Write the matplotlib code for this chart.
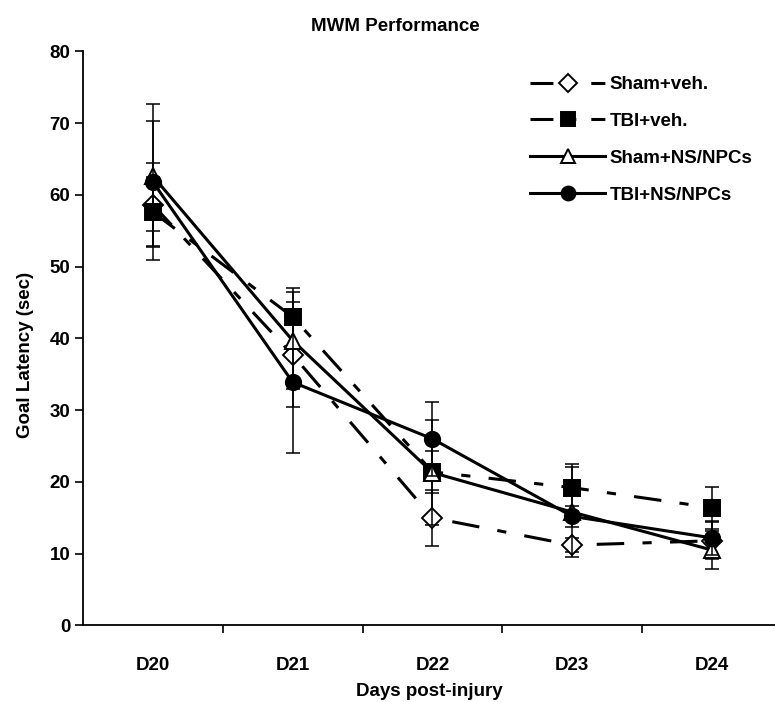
import numpy as np
import matplotlib
matplotlib.use('Agg')
import matplotlib.pyplot as plt
from matplotlib.ticker import FixedLocator
from matplotlib.lines import Line2D

plt.rcParams['font.family'] = ['Liberation Sans', 'DejaVu Sans']
plt.rcParams['font.weight'] = 'bold'

days = ['D20', 'D21', 'D22', 'D23', 'D24']

sham_veh = [58.6, 37.7, 15.0, 11.2, 11.8]
sham_veh_err = [5.8, 7.3, 3.9, 1.0, 2.6]
tbi_veh = [57.6, 43.0, 21.4, 19.2, 16.4]
tbi_veh_err = [4.9, 4.0, 2.9, 3.3, 2.9]
sham_ns = [62.6, 39.7, 21.3, 15.8, 10.5]
sham_ns_err = [7.7, 6.7, 7.3, 6.3, 2.7]
tbi_ns = [61.8, 33.9, 26.0, 15.2, 12.2]
tbi_ns_err = [10.9, 9.9, 5.2, 1.5, 2.4]

fs = 13.5

fig = plt.figure(figsize=(7.75, 7.02), dpi=100)
ax = fig.add_axes([0.107, 0.109, 0.893, 0.818])

x = np.arange(len(days))
dashdot = (0, (9, 6, 3, 6))
leg_dash = (0, (7.5, 2.6, 4.9, 4.9, 4.6, 10))

series = [
    (sham_veh, sham_veh_err, 'Sham+veh.', 'D', 'white', dashdot, 10.5),
    (tbi_veh, tbi_veh_err, 'TBI+veh.', 's', 'black', dashdot, 11),
    (sham_ns, sham_ns_err, 'Sham+NS/NPCs', '^', 'white', '-', 11),
    (tbi_ns, tbi_ns_err, 'TBI+NS/NPCs', 'o', 'black', '-', 11),
]

handles = []
for i, (vals, err, name, mk, fc, ls, ms) in enumerate(series):
    ax.errorbar(x, vals, yerr=err, fmt='none', ecolor='black', elinewidth=1.1,
                capsize=5, capthick=1.1, zorder=2 + i)
    ax.plot(x, vals, color='black', linestyle=ls, linewidth=2.2,
            marker=mk, markersize=ms, markerfacecolor=fc,
            markeredgecolor='black', markeredgewidth=1.4, zorder=3 + i)
    handles.append(Line2D([], [], color='black',
                          linestyle=leg_dash if ls != '-' else '-',
                          linewidth=2.2, marker=mk, markersize=ms - 1,
                          markerfacecolor=fc, markeredgecolor='black',
                          markeredgewidth=1.4, label=name))

ax.set_xlim(-0.5, 4.45)
ax.set_ylim(0, 80)
ax.set_yticks(range(0, 81, 10))
ax.set_xticks(x)
ax.set_xticklabels(days)
ax.xaxis.set_minor_locator(FixedLocator([0.5, 1.5, 2.5, 3.5]))
ax.tick_params(axis='x', which='major', length=0, pad=23, labelsize=fs)
ax.tick_params(axis='x', which='minor', length=6, width=1.2, direction='out')
ax.tick_params(axis='y', length=6, width=1.2, direction='out', pad=3, labelsize=fs)

for side in ['top', 'right']:
    ax.spines[side].set_visible(False)
for side in ['left', 'bottom']:
    ax.spines[side].set_linewidth(1.3)

ax.set_xlabel('Days post-injury', fontsize=fs, fontweight='bold', labelpad=6)
ax.set_ylabel('Goal Latency (sec)', fontsize=fs, fontweight='bold')
ax.yaxis.set_label_coords(-0.07, 0.472)

fig.text(0.51, 0.975, 'MWM Performance', ha='center', va='top',
         fontsize=fs, fontweight='bold')

leg = ax.legend(handles=handles, loc='upper left',
                bbox_to_anchor=(530 / 775, 1 - 76 / 702),
                bbox_transform=fig.transFigure, frameon=False,
                fontsize=fs, handlelength=4.0, handletextpad=0.25,
                labelspacing=1.05, borderpad=0, borderaxespad=0)

fig.savefig('out.png', dpi=100)
